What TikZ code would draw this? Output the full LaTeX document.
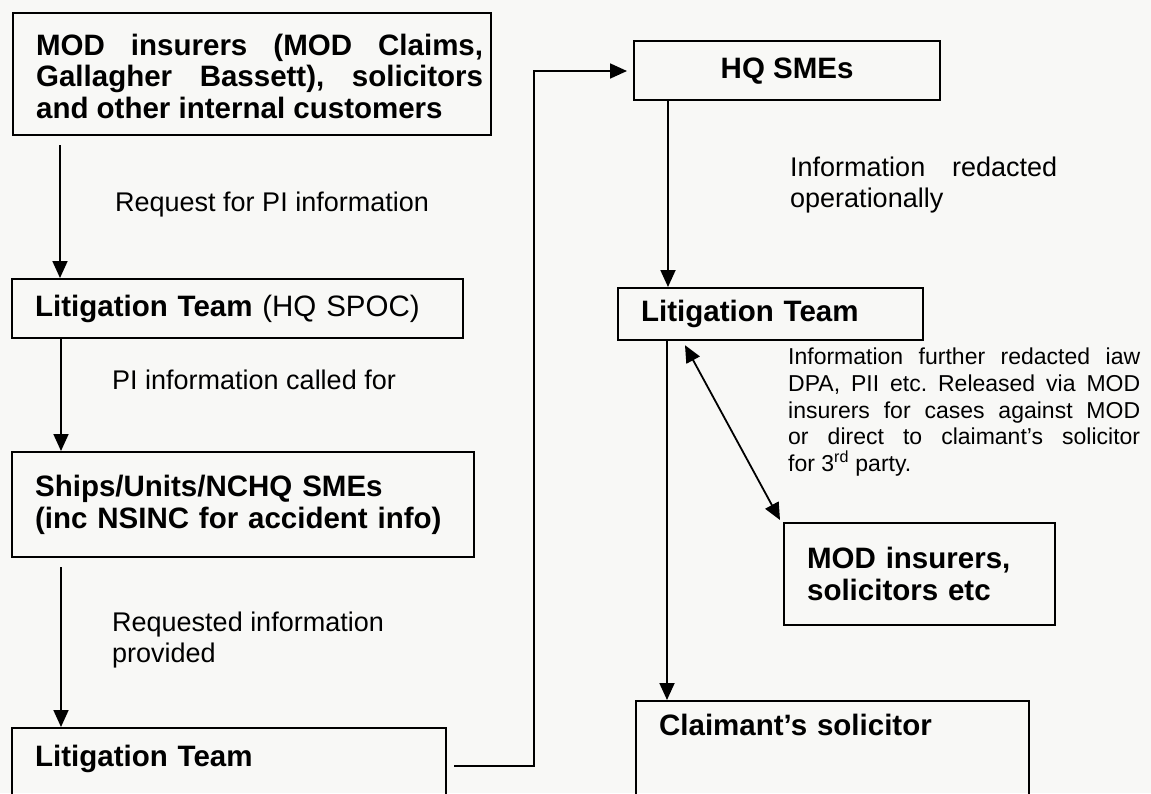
\documentclass[tikz,border=0pt]{standalone}
\usepackage{fontspec}
\setmainfont{Liberation Sans}
\usetikzlibrary{arrows.meta, positioning, calc}
\frenchspacing

\newcommand{\boxfont}{\fontsize{29.5}{31.7}\selectfont\bfseries}
\newcommand{\labfont}{\fontsize{27}{30.5}\selectfont}
\newcommand{\notefont}{\fontsize{23}{26.7}\selectfont}
\definecolor{paper}{RGB}{248,248,246}

\begin{document}
\begin{tikzpicture}[x=1pt, y=-1pt,
	pbox/.style={draw, line width=2.2pt, anchor=north west, inner xsep=23pt, inner ysep=0pt, font=\boxfont, align=left},
	arr/.style={line width=1.8pt, -{Triangle[length=17pt,width=15pt]}},
	dblarr/.style={line width=1.8pt, {Triangle[length=17pt,width=15pt]}-{Triangle[length=17pt,width=15pt]}},
	lbl/.style={inner sep=0pt, font=\labfont, align=left}]
		\fill[paper] (0,0) rectangle (1151,793);
		\clip (0,0) rectangle (1151,793);
		% left column
		\node[pbox, inner xsep=8pt, text width=462pt, minimum height=122pt, align=justify] (mod) at (12,12) {\rule{0pt}{26pt}\hspace*{15pt}MOD insurers (MOD Claims,\linebreak \hspace*{15pt}Gallagher Bassett), solicitors\linebreak \hspace*{15pt}and other internal customers};
		\node[pbox, text width=405pt, minimum height=59pt] (spoc) at (11,278) {Litigation Team \textmd{(HQ SPOC)}};
		\node[pbox, text width=416pt, minimum height=105pt] (ships) at (11,451) {Ships/Units/NCHQ SMEs\\(inc NSINC for accident info)};
		\node[pbox, text width=388pt, inner ysep=17pt, text depth=80pt] (lit4) at (11,727) {Litigation Team};
		% right column
		\node[pbox, minimum width=306pt, minimum height=59pt] (hq) at (633,40) {HQ SMEs};
		\node[pbox, text width=259pt, minimum height=52pt] (litR) at (617,287) {Litigation Team};
		\node[pbox, text width=225pt, minimum height=102pt] (ins) at (783,522) {MOD insurers,\\solicitors etc};
		\node[pbox, text width=347pt, inner ysep=13pt, text depth=100pt] (claim) at (635,700) {Claimant’s solicitor};
		% labels
		\node[lbl, anchor=west] (req) at (115,205) {Request for PI information};
		\node[lbl, anchor=west] (called) at (112,380) {PI information called for};
		\node[lbl, anchor=north west] (prov) at (112,612) {Requested information\\provided};
		\node[lbl, anchor=north west, text width=267pt, align=justify] (redact) at (790,157) {Information redacted\linebreak operationally};
		\node[lbl, anchor=north west, font=\notefont, text width=352pt, align=justify] (note) at (788,348) {Information further redacted iaw\linebreak DPA, PII etc. Released via MOD\linebreak insurers for cases against MOD\linebreak or direct to claimant’s solicitor\linebreak for 3\textsuperscript{rd} party.};
		% connectors
		\draw[arr] ([shift={(48,9)}]mod.south west) -- ([shift={(49,0)}]spoc.north west);
		\draw[arr] ([shift={(50,0)}]spoc.south west) -- ([shift={(50,0)}]ships.north west);
		\draw[arr] ([shift={(50,9)}]ships.south west) -- ([shift={(50,0)}]lit4.north west);
		\draw[arr] ([shift={(7,39)}]lit4.north east) -- ++(80,0) |- ([shift={(-6,31)}]hq.north west);
		\draw[arr] ([shift={(35,0)}]hq.south west) -- ([shift={(51,0)}]litR.north west);
		\draw[arr] ([shift={(50,0)}]litR.south west) -- ([shift={(32,0)}]claim.north west);
		\draw[dblarr] ([shift={(68,4)}]litR.south west) -- ([shift={(-3,-2)}]ins.north west);
	\end{tikzpicture}
\end{document}
